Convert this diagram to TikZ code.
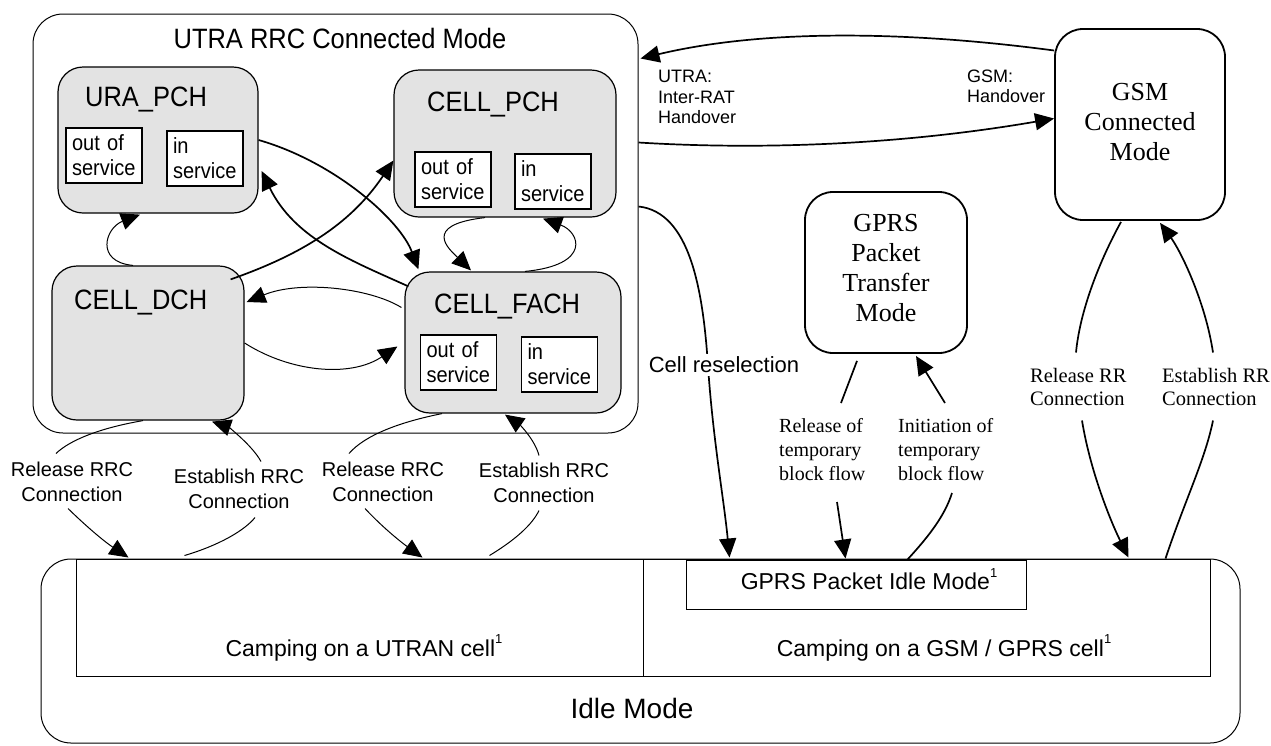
\documentclass[tikz,border=0pt]{standalone}
\usepackage{fontspec}
\setmainfont{Liberation Sans}
\newfontfamily\nsans[FakeStretch=0.91]{Liberation Sans}
\newfontfamily\tms{Liberation Serif}
\usetikzlibrary{arrows.meta,calc}
\newcommand{\supone}{\raisebox{0.55em}{\fontsize{13}{13}\selectfont 1}}
\begin{document}
\begin{tikzpicture}[x=1pt,y=-1pt,
  >={Triangle[length=19pt,width=17pt]},
  state/.style={draw,fill=black!11,rounded corners=25pt,line width=1.2pt,inner sep=0pt},
  svc/.style={draw,fill=white,line width=1.3pt,minimum width=76pt,minimum height=55pt,text width=64pt,inner xsep=6pt,inner ysep=0pt,align=left,font=\nsans\fontsize{22}{25}\selectfont},
  slab/.style={anchor=west,inner sep=0pt,font=\nsans\fontsize{28}{32}\selectfont},
  gbox/.style={draw,rounded corners=28pt,line width=1.8pt,inner sep=0pt},
  gtxt/.style={align=center,inner sep=0pt,font=\tms\fontsize{26}{30}\selectfont},
  rrc/.style={align=center,inner sep=0pt,font=\fontsize{20}{25}\selectfont},
  tlab/.style={anchor=west,align=left,inner sep=0pt,font=\tms\fontsize{20}{24}\selectfont},
  rrlab/.style={anchor=west,align=left,inner sep=0pt,font=\tms\fontsize{20.5}{23}\selectfont},
  holab/.style={anchor=west,align=left,inner sep=0pt,font=\fontsize{18}{20.5}\selectfont},
  thn/.style={line width=1pt},
  thk/.style={line width=1.7pt}]
\useasboundingbox (0,0) rectangle (1271,745);

% outer boxes
\node[draw,rounded corners=30pt,line width=1pt,minimum width=605pt,minimum height=419pt,inner sep=0pt] (utra) at (335.5,223.5) {};
\node[inner sep=0pt,font=\nsans\fontsize{28}{32}\selectfont] (title) at (340,38) {UTRA RRC Connected Mode};

\node[draw,rounded corners=30pt,line width=1pt,minimum width=1199pt,minimum height=184pt,inner sep=0pt] (idle) at (640.5,651) {};
\node[draw,line width=1pt,minimum width=567pt,minimum height=117pt,inner sep=0pt] (utran) at (359.5,617.5) {};
\node[draw,line width=1pt,minimum width=567pt,minimum height=117pt,inner sep=0pt] (gsmcell) at (926.5,617.5) {};
\node[draw,line width=1pt,minimum width=340pt,minimum height=49pt,inner sep=0pt] (pidle) at (856,584.5) {};
\node[inner sep=0pt,font=\fontsize{23}{27}\selectfont] (pidleT) at (869,579) {GPRS Packet Idle Mode\supone};
\node[inner sep=0pt,font=\fontsize{23}{27}\selectfont] (utranT) at (364,648) {Camping on a UTRAN cell\supone};
\node[inner sep=0pt,font=\fontsize{23}{27}\selectfont] (gsmcellT) at (944,648) {Camping on a GSM / GPRS cell\supone};
\node[inner sep=0pt,font=\fontsize{28}{32}\selectfont] (idleT) at (632,708) {Idle Mode};

% UTRA states
\node[state,minimum width=200pt,minimum height=146pt] (ura) at (158,140) {};
\node[slab] (uraL) at (85,100) {URA\_PCH};
\node[svc] (uraO) at (104,155.5) {out of\\service};
\node[svc] (uraI) at (205,158.5) {in\\service};

\node[state,minimum width=222pt,minimum height=147pt] (cpch) at (505,143.5) {};
\node[slab] (cpchL) at (427,105) {CELL\_PCH};
\node[svc] (cpchO) at (453,179.5) {out of\\service};
\node[svc] (cpchI) at (553,181.5) {in\\service};

\node[state,minimum width=192pt,minimum height=154pt] (dch) at (148,343) {};
\node[slab] (dchL) at (74,302) {CELL\_DCH};

\node[state,minimum width=216pt,minimum height=141pt] (fach) at (513,342.5) {};
\node[slab] (fachL) at (434,306) {CELL\_FACH};
\node[svc] (fachO) at (458.5,362.5) {out of\\service};
\node[svc] (fachI) at (559.5,364.5) {in\\service};

% GSM / GPRS boxes
\node[gbox,minimum width=170pt,minimum height=191pt] (gsm) at (1140,124.5) {};
\node[gtxt] (gsmT) at (1140,122) {GSM\\Connected\\Mode};
\node[gbox,minimum width=162pt,minimum height=161pt] (gprs) at (886,272.5) {};
\node[gtxt] (gprsT) at (886,268) {GPRS\\Packet\\Transfer\\Mode};

% labels
\node[rrc] (relL1) at (72,481.5) {Release RRC\\Connection};
\node[rrc] (estL1) at (239,488.5) {Establish RRC\\Connection};
\node[rrc] (relL2) at (383,481.5) {Release RRC\\Connection};
\node[rrc] (estL2) at (544,482.5) {Establish RRC\\Connection};
\node[tlab] (relT) at (779,450) {Release of\\temporary\\block flow};
\node[tlab] (iniT) at (898,450) {Initiation of\\temporary\\block flow};
\node[rrlab] (relRR) at (1030,386.5) {Release RR\\Connection};
\node[rrlab] (estRR) at (1162,386.5) {Establish RR\\Connection};
\node[holab] (utraHO) at (658,97) {UTRA:\\Inter-RAT\\Handover};
\node[holab] (gsmHO) at (967,86.5) {GSM:\\Handover};

% connectors inside UTRA
\draw[thk,->] (ura.east) .. controls (335,162) and (400,220) .. ($(fach.north west)+(14,-2)$);
\draw[thk,->] ($(fach.north west)+(4,15)$) .. controls (355,262) and (295,240) .. ($(ura.east)+(3,31)$);
\draw[thk,->] ($(dch.north east)+(-14,14)$) .. controls (300,255) and (350,225) .. ($(cpch.west)+(0,17)$);
\draw[thn,->] ($(dch.north)+(-15,0)$) .. controls (95,262) and (105,228) .. ($(ura.south)+(-18,1)$);
\draw[thn,->] ($(cpch.south)+(-20,0)$) .. controls (420,225) and (450,250) .. ($(fach.north)+(-42,-1)$);
\draw[thn,->] ($(fach.north)+(12,0)$) .. controls (592,265) and (580,232) .. ($(cpch.south)+(38,1)$);
\draw[thn,->] ($(fach.west)+(-3,-35)$) .. controls (370,288) and (300,280) .. ($(dch.east)+(2,-41)$);
\draw[thn,->] (dch.east) .. controls (290,372) and (350,378) .. ($(fach.west)+(-7,4)$);

% RRC connections
\draw[thn] ($(dch.south)+(-5,0)$) .. controls (100,428) and (70,440) .. ($(relL1)+(-16,-28)$);
\draw[thn,->] ($(relL1)+(-4,27)$) .. controls (88,528) and (105,542) .. ($(utran.north west)+(53,-1)$);
\draw[thn] ($(utran.north west)+(109,-3)$) .. controls (220,545) and (245,530) .. ($(estL1)+(16,29)$);
\draw[thn,->] ($(estL1)+(22,-27)$) .. controls (252,445) and (228,427) .. ($(dch.south)+(64,1)$);
\draw[thn] ($(fach.south)+(-71,0)$) .. controls (400,422) and (365,435) .. ($(relL2)+(-34,-28)$);
\draw[thn,->] ($(relL2)+(-18,27)$) .. controls (385,530) and (405,545) .. ($(utran.north west)+(347,-1)$);
\draw[thn] ($(utran.north west)+(414,-3)$) .. controls (515,540) and (532,525) .. ($(estL2)+(-5,28)$);
\draw[thn,->] ($(estL2)+(-5,-27)$) .. controls (535,440) and (520,425) .. ($(fach.south)+(-8,1)$);

% handovers
\draw[thk,->] ($(gsm.west)+(0,-74)$) .. controls (900,30) and (760,30) .. ($(utra.east)+(2,-165)$);
\draw[thk,->] ($(utra.east)+(0,-81)$) .. controls (760,150) and (900,145) .. ($(gsm.west)+(0,-6)$);

% cell reselection
\coordinate (crmid) at (708,366);
\draw[thk,->] ($(utra.east)+(0,-17)$) .. controls (690,212) and (703,290) .. (crmid) .. controls (713,440) and (724,500) .. ($(gsmcell.north west)+(87,-1)$);
\node[fill=white,inner xsep=1pt,inner ysep=3pt,font=\fontsize{22}{26}\selectfont] (cellres) at (724,365) {Cell reselection};

% GPRS TBF
\draw[thk] ($(gprs.south)+(-29,7)$) -- ($(relT.west)+(62,-47)$);
\draw[thk,->] ($(relT.west)+(58,52)$) -- ($(pidle.north west)+(160,-1)$);
\draw[thk] ($(pidle.north west)+(222,0)$) .. controls (930,535) and (945,515) .. ($(iniT.west)+(54,43)$);
\draw[thk,->] ($(iniT.west)+(47,-47)$) -- ($(gprs.south)+(30,2)$);

% RR connections
\draw[thk] ($(gsm.south)+(-19,1)$) .. controls (1100,260) and (1080,310) .. ($(relRR.west)+(46,-34)$);
\draw[thk,->] ($(relRR.west)+(52,34)$) .. controls (1090,470) and (1110,520) .. ($(gsmcell.north east)+(-82,-1)$);
\draw[thk] ($(gsmcell.north east)+(-45,0)$) .. controls (1185,500) and (1205,460) .. ($(estRR.west)+(51,34)$);
\draw[thk,->] ($(estRR.west)+(51,-34)$) .. controls (1205,300) and (1180,250) .. ($(gsm.south)+(20,2)$);
\end{tikzpicture}
\end{document}
